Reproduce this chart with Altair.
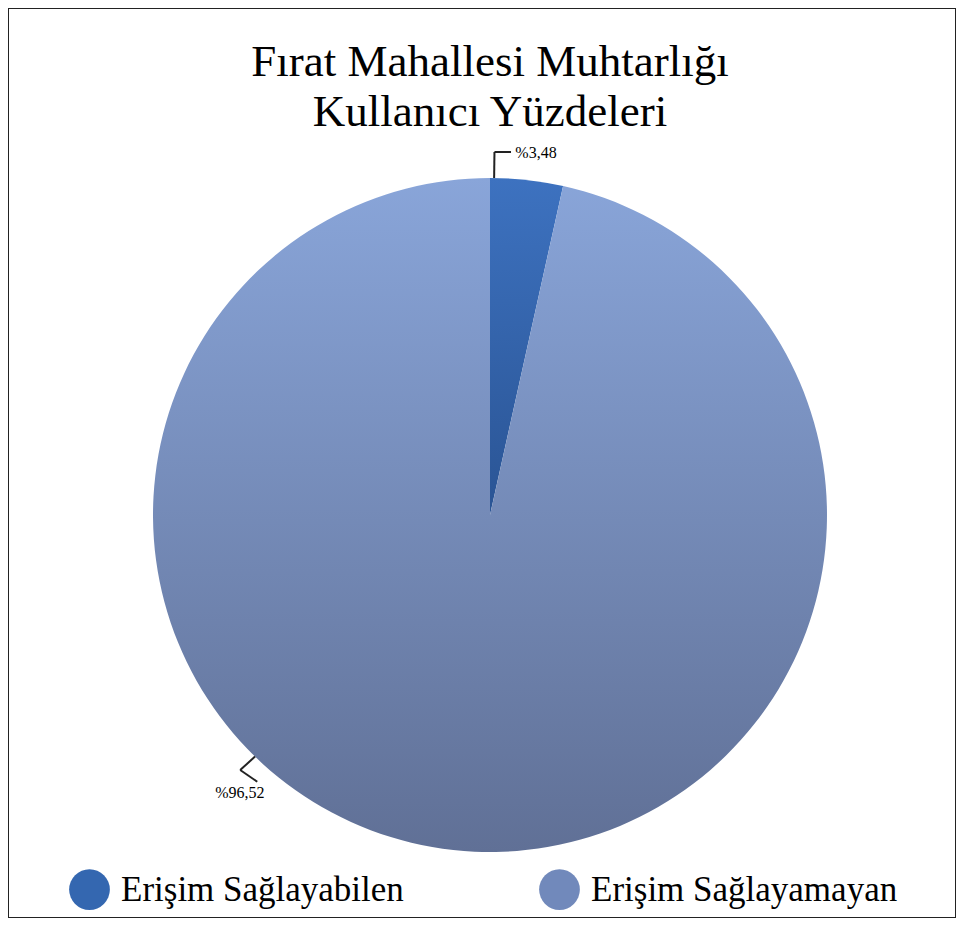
import altair as alt
import numpy as np
import pandas as pd

# ---- data ----
categories = ["Erişim Sağlayabilen", "Erişim Sağlayamayan"]
values = [3.48, 96.52]
title_lines = ["Fırat Mahallesi Muhtarlığı", "Kullanıcı Yüzdeleri"]

# ---- styling / layout ----
legend_colors = ["#3467b0", "#7189bb"]
gradients = [("#3d72c0", "#2a5494"), ("#89a5d9", "#607096")]
W, H = 948, 910
CX, CY, R = 482, 507, 337
FONT = "Liberation Serif"

# leader line layout: (angle offset from slice mid in degrees, radius px)
leader_layout = {
    categories[0]: {"path": [(-5.56, 337), (-5.56, 363), (-2.95, 363.6)], "label": (0.98, 365)},
    categories[1]: {"path": [(37.94, 337), (38.14, 357), (34.84, 354)], "label": (35.7, 374)},
}

df = pd.DataFrame({"cat": categories, "value": values, "order": list(range(len(values)))})
total = float(np.sum(values))
cum = np.cumsum(values)
mids = (cum - np.array(values) / 2) / total * 360.0


def polar(deg, r):
    a = np.radians(deg)
    return CX + r * np.sin(a), CY - r * np.cos(a)


seg_rows, lab_rows = [], []
for cat, v, m in zip(categories, values, mids):
    lay = leader_layout[cat]
    pts = [polar(m + da, r) for da, r in lay["path"]]
    for (x1, y1), (x2, y2) in zip(pts[:-1], pts[1:]):
        seg_rows.append({"x": x1, "y": y1, "x2": x2, "y2": y2})
    lx, ly = polar(m + lay["label"][0], lay["label"][1])
    lab_rows.append({"x": lx, "y": ly, "text": "%" + f"{v:.2f}".replace(".", ",")})

seg_df = pd.DataFrame(seg_rows)
lab_df = pd.DataFrame(lab_rows)

base = alt.Chart(df).transform_stack(
    stack="value", groupby=[], as_=["v0", "v1"], sort=[alt.SortField("order", order="ascending")]
)

theta_scale = alt.Scale(domain=[0, total])
arc_layers = []
for cat, (c_top, c_bot) in zip(categories, gradients):
    grad = alt.Gradient(
        gradient="linear",
        stops=[alt.GradientStop(color=c_top, offset=0), alt.GradientStop(color=c_bot, offset=1)],
        x1=0, x2=0, y1=0, y2=1,
    )
    arc_layers.append(
        base.transform_filter(alt.datum.cat == cat)
        .mark_arc(outerRadius=R, color=grad, strokeWidth=0)
        .encode(
            theta=alt.Theta("v0:Q", scale=theta_scale),
            theta2="v1:Q",
            x=alt.value(CX),
            y=alt.value(CY),
        )
    )

legend_layer = alt.Chart(df).mark_point(filled=True, opacity=0, size=1).encode(
    color=alt.Color(
        "cat:N",
        scale=alt.Scale(domain=categories, range=legend_colors),
        legend=alt.Legend(
            title=None,
            orient="none",
            legendX=61,
            legendY=861,
            direction="horizontal",
            symbolType="circle",
            symbolSize=1660,
            symbolOpacity=1,
            symbolStrokeWidth=0,
            labelFont=FONT,
            labelFontSize=35,
            labelColor="black",
            labelOffset=11,
            labelLimit=500,
            columnPadding=135,
        ),
    ),
    x=alt.value(CX),
    y=alt.value(CY),
)

rules = alt.Chart(seg_df).mark_rule(color="#222222", strokeWidth=2).encode(
    x=alt.X("x:Q", scale=None, axis=None),
    y=alt.Y("y:Q", scale=None, axis=None),
    x2="x2:Q",
    y2="y2:Q",
)

labels = alt.Chart(lab_df).mark_text(
    font=FONT, fontSize=16, color="black", align="center", baseline="middle"
).encode(
    x=alt.X("x:Q", scale=None, axis=None),
    y=alt.Y("y:Q", scale=None, axis=None),
    text="text:N",
)

chart = alt.layer(*arc_layers, rules, labels, legend_layer).properties(
    width=W,
    height=H,
    padding=0,
    autosize=alt.AutoSizeParams(type="none"),
    title=alt.TitleParams(
        text=title_lines,
        font=FONT,
        fontSize=45,
        fontWeight="normal",
        color="black",
        lineHeight=50,
        anchor="middle",
        frame="group",
        offset=-127,
        dx=8,
    ),
).configure_view(stroke="#222222", strokeWidth=2)

chart.save("out.html", embed_options={"renderer": "svg", "actions": False})
